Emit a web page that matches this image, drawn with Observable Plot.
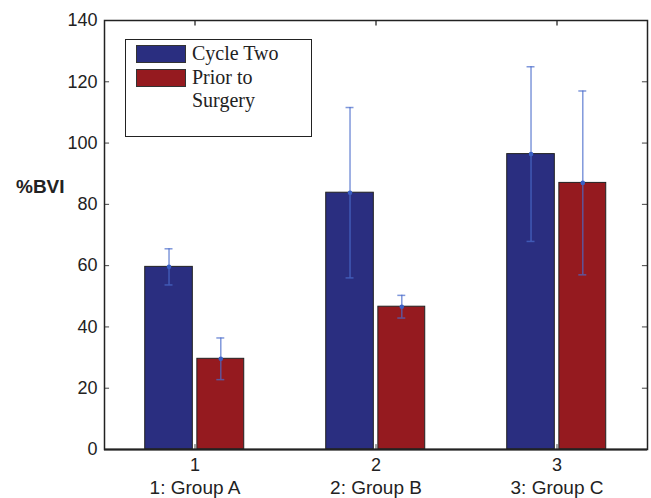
<!DOCTYPE html>
<html>
<head>
<meta charset="utf-8">
<script src="https://cdn.jsdelivr.net/npm/d3@7"></script>
<script src="https://cdn.jsdelivr.net/npm/@observablehq/plot@0.6"></script>
<style>
  body { margin: 0; background: #fff; }
  #wrap { position: relative; width: 651px; height: 498px; font-family: "Liberation Sans", Arial, sans-serif; color: #222; }
  #ylab { position: absolute; left: 16px; top: 176px; font-weight: bold; font-size: 19px; font-family: "Liberation Sans", Arial, sans-serif; }
  #legend { position: absolute; left: 125px; top: 39px; width: 187px; height: 98px; border: 1.5px solid #222; background: #fff; box-sizing: border-box; font-family: "Liberation Serif", "Times New Roman", serif; font-size: 20px; color: #222; }
  .item { position: absolute; left: 10px; display: flex; align-items: flex-start; }
  .sw { width: 50px; height: 18px; border: 1px solid #333; box-sizing: border-box; margin-right: 6px; margin-top: 3px; }
  .lt { line-height: 23px; }
</style>
</head>
<body>
<div id="wrap"></div>
<script>
const groups = [1, 2, 3];
const groupLabels = ["1: Group A", "2: Group B", "3: Group C"];
const seriesNames = ["Cycle Two", "Prior to Surgery"];
const seriesLegend = ["Cycle Two", "Prior to<br>Surgery"];
const cycleTwo = [59.6, 83.8, 96.4];
const cycleTwoErr = [5.9, 27.8, 28.5];
const priorSurgery = [29.6, 46.6, 87.0];
const priorSurgeryErr = [6.8, 3.7, 30.0];
const yTicks = [0, 20, 40, 60, 80, 100, 120, 140];

const colors = { "Cycle Two": "#2a2e80", "Prior to Surgery": "#951a1f" };
const offsets = { "Cycle Two": [-0.275, -0.012], "Prior to Surgery": [0.013, 0.272] };

const rows = [];
groups.forEach((g, i) => {
  rows.push({ g, s: seriesNames[0], v: cycleTwo[i], e: cycleTwoErr[i] });
  rows.push({ g, s: seriesNames[1], v: priorSurgery[i], e: priorSurgeryErr[i] });
});
const mid = d => d.g + (offsets[d.s][0] + offsets[d.s][1]) / 2;
const capW = 0.022;

const plot = Plot.plot({
  width: 651,
  height: 498,
  marginLeft: 104,
  marginRight: 4,
  marginTop: 20,
  marginBottom: 49,
  style: { fontFamily: "'Liberation Sans', Arial, sans-serif", color: "#222", background: "#fff" },
  x: { domain: [0.5, 3.5] },
  y: { domain: [0, 140] },
  marks: [
    Plot.rect(rows, {
      x1: d => d.g + offsets[d.s][0],
      x2: d => d.g + offsets[d.s][1],
      y1: 0, y2: "v",
      fill: d => colors[d.s],
      stroke: "#222", strokeWidth: 1
    }),
    Plot.ruleX(rows, { x: mid, y1: d => d.v - d.e, y2: d => d.v + d.e, stroke: "#4a6ccc", strokeOpacity: 0.7, strokeWidth: 1.5 }),
    Plot.ruleY(rows, { y: d => d.v + d.e, x1: d => mid(d) - capW, x2: d => mid(d) + capW, stroke: "#4a6ccc", strokeOpacity: 0.7, strokeWidth: 1.5 }),
    Plot.ruleY(rows, { y: d => d.v - d.e, x1: d => mid(d) - capW, x2: d => mid(d) + capW, stroke: "#4a6ccc", strokeOpacity: 0.7, strokeWidth: 1.5 }),
    Plot.dot(rows, { x: mid, y: "v", r: 2.3, fill: "#3a5fc4" }),
    Plot.ruleY(yTicks, { y: d => d, x1: 0.5, x2: 0.5 + 0.028, stroke: "#444", strokeWidth: 1 }),
    Plot.ruleY(yTicks, { y: d => d, x1: 3.5 - 0.028, x2: 3.5, stroke: "#444", strokeWidth: 1 }),
    Plot.ruleX(groups, { x: d => d, y1: 140 - 1.8, y2: 140, stroke: "#444", strokeWidth: 1.5 }),
    Plot.ruleX(groups, { x: d => d, y1: 0, y2: 1.6, stroke: "#444", strokeWidth: 1 }),
    Plot.frame({ stroke: "#222", strokeWidth: 1.5 }),
    Plot.ruleY([0], { stroke: "#222", strokeWidth: 2 }),
    Plot.axisY({ ticks: yTicks, tickSize: 0, tickPadding: 7, fontSize: 18, tickFormat: d => String(d), label: null }),
    Plot.axisX({ ticks: groups, tickSize: 0, tickPadding: 9, fontSize: 18, tickFormat: d => String(d), label: null }),
    Plot.axisX({ ticks: groups, tickSize: 0, tickPadding: 31, fontSize: 19, tickFormat: d => groupLabels[d - 1], label: null })
  ]
});

const wrap = document.getElementById("wrap");
wrap.appendChild(plot);

const ylab = document.createElement("div");
ylab.id = "ylab";
ylab.textContent = "%BVI";
wrap.appendChild(ylab);

const legend = document.createElement("div");
legend.id = "legend";
const tops = [2, 26];
seriesNames.forEach((s, i) => {
  const item = document.createElement("div");
  item.className = "item";
  item.style.top = tops[i] + "px";
  item.innerHTML = `<div class="sw" style="background:${colors[s]}"></div><div class="lt">${seriesLegend[i]}</div>`;
  legend.appendChild(item);
});
wrap.appendChild(legend);
</script>
</body>
</html>
